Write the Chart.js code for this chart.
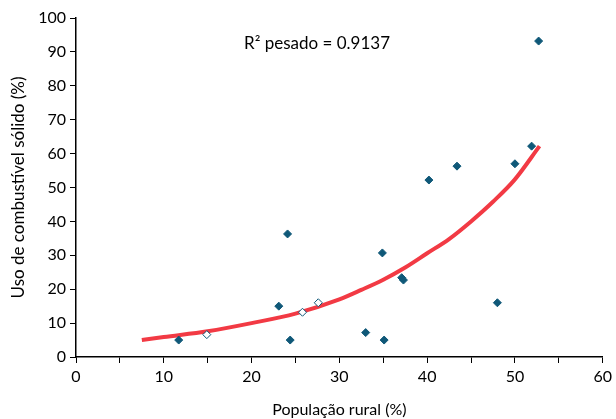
<!DOCTYPE html>
<html>
<head>
<meta charset="utf-8">
<script src="https://cdn.jsdelivr.net/npm/chart.js@4/dist/chart.umd.min.js"></script>
<style>
  html, body { margin: 0; padding: 0; background: #fff; }
  #wrap { width: 616px; height: 419px; }
</style>
</head>
<body>
<div id="wrap"><canvas id="chart"></canvas></div>
<script>
// observed points: rural population (%) vs solid fuel use (%)
const ruralPop = [11.7, 14.9, 23.1, 24.1, 24.4, 25.8, 27.6, 33.0, 34.9, 35.1, 37.1, 37.3, 40.2, 43.4, 48.0, 50.0, 51.9, 52.7];
const solidFuel = [5.0, 6.6, 15.0, 36.3, 5.0, 13.2, 16.0, 7.2, 30.7, 5.0, 23.4, 22.7, 52.2, 56.3, 16.0, 57.0, 62.2, 93.2];
const hollow = [false, true, false, false, false, true, true, false, false, false, false, false, false, false, false, false, false, false];

// weighted trend curve
const trendX = [7.5, 10, 15, 20, 25, 30, 32.5, 35, 37.5, 40, 42.5, 45, 47.5, 50, 52.8];
const trendY = [5.0, 5.9, 7.6, 10.0, 12.8, 17.0, 19.8, 22.8, 26.4, 30.6, 34.8, 40.0, 45.8, 52.4, 62.2];

const yTicks = [0, 10, 20, 30, 40, 50, 60, 70, 80, 90, 100];
const annotation = 'R\u00b2 pesado = 0.9137';

const FONT = 'Lato, "Open Sans", sans-serif';
const BLUE = '#0f5878';

const textPlugin = {
  id: 'rsq',
  afterDraw(chart) {
    const c = chart.ctx;
    c.save();
    c.font = '17px ' + FONT;
    c.fillStyle = '#000';
    c.textBaseline = 'middle';
    c.fillText(annotation, 244, 44);
    c.restore();
  }
};

new Chart(document.getElementById('chart'), {
  type: 'scatter',
  data: {
    datasets: [
      {
        label: 'trend',
        type: 'line',
        data: trendX.map((x, i) => ({ x: x, y: trendY[i] })),
        borderColor: '#f23a44',
        borderWidth: 4,
        pointRadius: 0,
        cubicInterpolationMode: 'monotone',
        fill: false,
        order: 2
      },
      {
        label: 'data',
        data: ruralPop.map((x, i) => ({ x: x, y: solidFuel[i] })),
        pointStyle: 'rectRot',
        pointRadius: 4,
        borderWidth: 1,
        borderColor: BLUE,
        backgroundColor: hollow.map(h => h ? '#fff' : BLUE),
        order: 1
      }
    ]
  },
  options: {
    responsive: true,
    maintainAspectRatio: false,
    animation: false,
    layout: { padding: { top: 18, right: 12, left: 0, bottom: 0 } },
    plugins: {
      legend: { display: false },
      tooltip: { enabled: false }
    },
    scales: {
      x: {
        type: 'linear',
        min: 0,
        max: 60,
        afterFit: s => { s.height = 62; },
        border: { display: true, color: '#000', width: 1.5 },
        grid: { drawOnChartArea: false, drawTicks: true, tickLength: 6, color: '#000' },
        ticks: {
          stepSize: 5,
          color: '#000',
          font: { family: FONT, size: 16 },
          padding: 4,
          maxRotation: 0,
          callback: v => (v % 10 === 0 ? v : '')
        },
        title: {
          display: true,
          text: 'População rural (%)',
          color: '#000',
          font: { family: FONT, size: 16 },
          padding: { top: 0, bottom: 0 }
        }
      },
      y: {
        min: 0,
        max: 100,
        afterFit: s => { s.width = 76; },
        afterBuildTicks: s => { s.ticks = yTicks.map(v => ({ value: v })); },
        border: { display: true, color: '#000', width: 1.5 },
        grid: { drawOnChartArea: false, drawTicks: true, tickLength: 6, color: '#000' },
        ticks: {
          color: '#000',
          font: { family: FONT, size: 16 },
          padding: 4
        },
        title: {
          display: true,
          text: 'Uso de combustível sólido (%)',
          color: '#000',
          font: { family: FONT, size: 17 },
          padding: { top: 8, bottom: 0 }
        }
      }
    }
  },
  plugins: [textPlugin]
});
</script>
</body>
</html>
